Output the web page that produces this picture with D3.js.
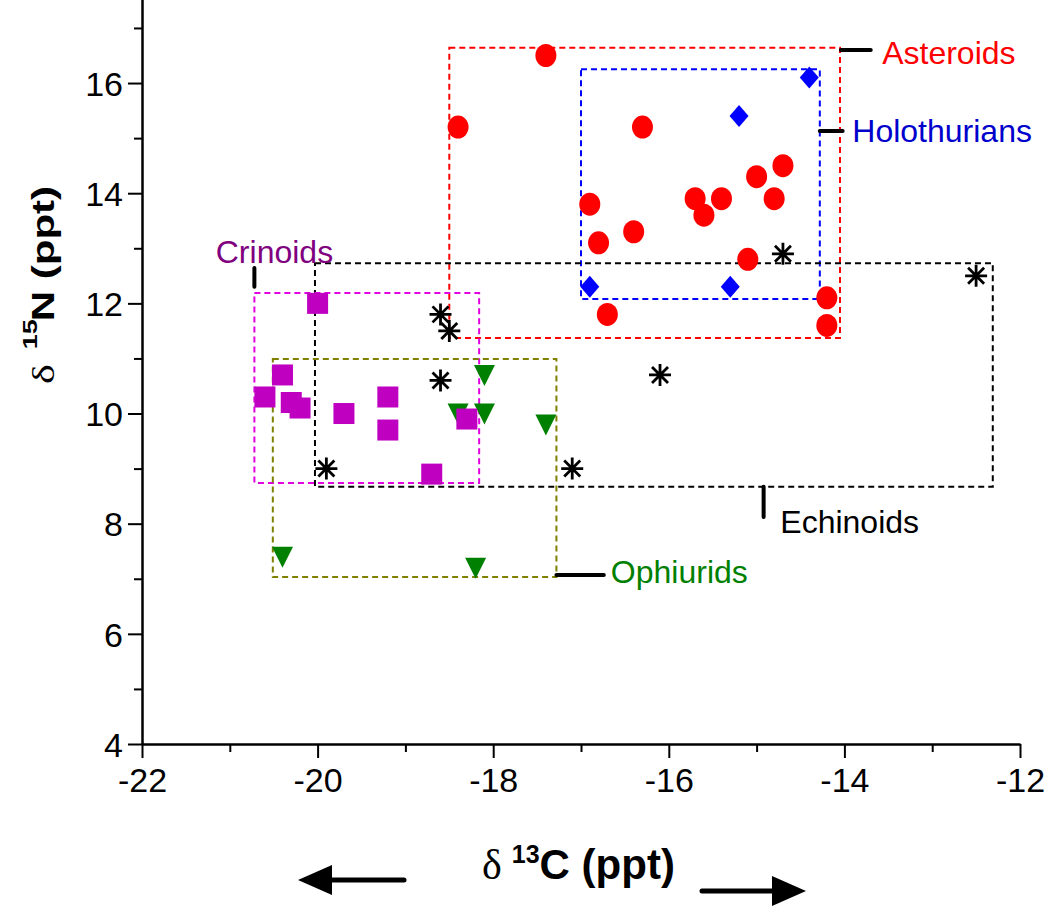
<!DOCTYPE html>
<html>
<head>
<meta charset="utf-8">
<script src="https://cdn.jsdelivr.net/npm/d3@7"></script>
<style>
  body { margin: 0; background: #fff; }
  svg { display: block; }
  text { font-family: "Liberation Sans", Arial, sans-serif; }
</style>
</head>
<body>
<div id="chart"></div>
<script>
// d13C (x) and d15N (y), one pair of arrays per group
const asteroidsC = [-17.4, -18.4, -16.3, -16.9, -16.8, -16.4, -15.7, -15.6, -15.4, -15.0, -14.7, -14.8, -15.1, -16.7, -14.2, -14.2];
const asteroidsN = [16.5, 15.2, 15.2, 13.8, 13.1, 13.3, 13.9, 13.6, 13.9, 14.3, 14.5, 13.9, 12.8, 11.8, 12.1, 11.6];

const holothuriansC = [-14.4, -15.2, -16.9, -15.3];
const holothuriansN = [16.1, 15.4, 12.3, 12.3];

const echinoidsC = [-18.6, -18.5, -18.6, -19.9, -17.1, -16.1, -14.7, -12.5];
const echinoidsN = [11.8, 11.5, 10.6, 9.0, 9.0, 10.7, 12.9, 12.5];

const crinoidsC = [-20.0, -20.4, -20.6, -20.3, -20.2, -19.7, -19.2, -19.2, -18.3, -18.7];
const crinoidsN = [12.0, 10.7, 10.3, 10.2, 10.1, 10.0, 10.3, 9.7, 9.9, 8.9];

const ophiuridsC = [-18.1, -18.4, -18.1, -17.4, -20.4, -18.2];
const ophiuridsN = [10.7, 10.0, 10.0, 9.8, 7.4, 7.2];

// dashed ranges: [xMin, xMax, yMin, yMax]
const asteroidsBox = [-18.5, -14.05, 11.37, 16.64];
const holothuriansBox = [-17.0, -14.28, 12.08, 16.25];
const echinoidsBox = [-20.03, -12.31, 8.67, 12.73];
const crinoidsBox = [-20.72, -18.16, 8.74, 12.19];
const ophiuridsBox = [-20.51, -17.28, 7.03, 10.99];

const xTicks = [-22, -21, -20, -19, -18, -17, -16, -15, -14, -13, -12];
const yTicks = [4, 5, 6, 7, 8, 9, 10, 11, 12, 13, 14, 15, 16, 17];

const width = 1049, height = 907;

const svg = d3.select("#chart").append("svg")
    .attr("width", width)
    .attr("height", height);

const x = d3.scaleLinear().domain([-22, -12]).range([142, 1020]);
const y = d3.scaleLinear().domain([4, 18]).range([744, 744 - 14 * 55.08]);

// axes: even values get long labelled ticks, odd ones short bare ticks
const xAxis = svg.append("g")
    .attr("transform", `translate(0,${y(4)})`)
    .call(d3.axisBottom(x).tickValues(xTicks).tickSize(14).tickSizeOuter(0)
        .tickFormat(d => d % 2 === 0 ? d : ""));
xAxis.selectAll(".tick line").attr("y2", d => d % 2 === 0 ? 14 : 8);

const yAxis = svg.append("g")
    .attr("transform", `translate(${x(-22)},0)`)
    .call(d3.axisLeft(y).tickValues(yTicks).tickSize(14).tickSizeOuter(0)
        .tickFormat(d => d % 2 === 0 ? d : ""));
yAxis.selectAll(".tick line").attr("x2", d => d % 2 === 0 ? -14 : -8);

svg.selectAll(".domain").attr("stroke", "#000").attr("stroke-width", 2.5);
svg.selectAll(".tick line").attr("stroke", "#000").attr("stroke-width", 2);
xAxis.selectAll(".tick text")
    .attr("y", 24).attr("dy", "0.71em")
    .attr("font-size", 34).attr("font-family", "Liberation Sans, Arial, sans-serif").attr("fill", "#000");
yAxis.selectAll(".tick text")
    .attr("x", -19).attr("dy", "0.36em")
    .attr("font-size", 34).attr("font-family", "Liberation Sans, Arial, sans-serif").attr("fill", "#000");

// dashed group boxes
function drawBox(b, color) {
    svg.append("rect")
        .attr("x", x(b[0]))
        .attr("y", y(b[3]))
        .attr("width", x(b[1]) - x(b[0]))
        .attr("height", y(b[2]) - y(b[3]))
        .attr("fill", "none")
        .attr("stroke", color)
        .attr("stroke-width", 2)
        .attr("stroke-dasharray", "6,4");
}
drawBox(asteroidsBox, "#ff0000");
drawBox(holothuriansBox, "#0000ff");
drawBox(echinoidsBox, "#000000");
drawBox(crinoidsBox, "#e000e0");
drawBox(ophiuridsBox, "#808000");

function pts(cs, ns) {
    return cs.map((c, i) => ({ c, n: ns[i] }));
}

// Ophiurids: down triangles
svg.selectAll(".oph").data(pts(ophiuridsC, ophiuridsN)).enter()
    .append("path").attr("class", "oph")
    .attr("transform", d => `translate(${x(d.c)},${y(d.n)})`)
    .attr("d", "M-10.5,-10L10.5,-10L0,11Z")
    .attr("fill", "#008000");

// Crinoids: squares
svg.selectAll(".cri").data(pts(crinoidsC, crinoidsN)).enter()
    .append("rect").attr("class", "cri")
    .attr("x", d => x(d.c) - 10.5)
    .attr("y", d => y(d.n) - 10.5)
    .attr("width", 21).attr("height", 21)
    .attr("fill", "#c000c0");

// Asteroids: circles
svg.selectAll(".ast").data(pts(asteroidsC, asteroidsN)).enter()
    .append("ellipse").attr("class", "ast")
    .attr("cx", d => x(d.c)).attr("cy", d => y(d.n))
    .attr("rx", 10.5).attr("ry", 11.5)
    .attr("fill", "#ff0000");

// Holothurians: diamonds
svg.selectAll(".hol").data(pts(holothuriansC, holothuriansN)).enter()
    .append("path").attr("class", "hol")
    .attr("transform", d => `translate(${x(d.c)},${y(d.n)})`)
    .attr("d", "M0,-11L9.5,0L0,11L-9.5,0Z")
    .attr("fill", "#0000ff");

// Echinoids: asterisks
svg.selectAll(".ech").data(pts(echinoidsC, echinoidsN)).enter()
    .append("path").attr("class", "ech")
    .attr("transform", d => `translate(${x(d.c)},${y(d.n)})`)
    .attr("d", "M0,-11V11M-11,0H11M-8,-8L8,8M-8,8L8,-8")
    .attr("stroke", "#000").attr("stroke-width", 2.8).attr("fill", "none");

// leader lines and group names
function leader(x1, y1, x2, y2) {
    svg.append("line")
        .attr("x1", x(x1)).attr("y1", y(y1))
        .attr("x2", x(x2)).attr("y2", y(y2))
        .attr("stroke", "#000").attr("stroke-width", 4)
        .attr("stroke-linecap", "round");
}
function label(txt, cx, cy, color) {
    svg.append("text")
        .attr("x", x(cx)).attr("y", y(cy))
        .attr("font-size", 32)
        .attr("fill", color)
        .text(txt);
}
leader(-14.04, 16.6, -13.7, 16.6);
label("Asteroids", -13.57, 16.35, "#ff0000");
leader(-14.28, 15.13, -14.02, 15.13);
label("Holothurians", -13.91, 14.93, "#0000cc");
leader(-20.72, 12.64, -20.72, 12.3);
label("Crinoids", -21.16, 12.73, "#800080");
leader(-14.92, 8.67, -14.92, 8.12);
label("Echinoids", -14.73, 7.83, "#000000");
leader(-17.28, 7.07, -16.74, 7.07);
label("Ophiurids", -16.66, 6.93, "#008000");

// axis titles
const xTitle = svg.append("text")
    .attr("x", 482).attr("y", 879)
    .attr("font-size", 42).attr("font-weight", "bold");
xTitle.append("tspan").attr("font-family", "Liberation Serif, Times New Roman, serif")
    .attr("font-weight", "normal").text("δ");
xTitle.append("tspan").attr("dx", 10).attr("dy", -16).attr("font-size", 25).text("13");
xTitle.append("tspan").attr("dy", 16).text("C (ppt)");

const yTitle = svg.append("text")
    .attr("transform", "translate(54,384) rotate(-90) scale(1,0.75)")
    .attr("font-size", 42).attr("font-weight", "bold");
yTitle.append("tspan").attr("font-family", "Liberation Serif, Times New Roman, serif")
    .attr("font-weight", "normal").text("δ");
yTitle.append("tspan").attr("dx", 15).attr("dy", -23).attr("font-size", 27).text("15");
yTitle.append("tspan").attr("dx", -2).attr("dy", 23).text("N (ppt)");

// direction arrows under the x title
function arrow(xTail, xTip, yy) {
    const dir = xTip < xTail ? -1 : 1;
    svg.append("line")
        .attr("x1", xTail).attr("y1", yy)
        .attr("x2", xTip - dir * 20).attr("y2", yy)
        .attr("stroke", "#000").attr("stroke-width", 5)
        .attr("stroke-linecap", "round");
    svg.append("path")
        .attr("d", `M${xTip},${yy}L${xTip - dir * 34},${yy - 15}L${xTip - dir * 34},${yy + 15}Z`)
        .attr("fill", "#000");
}
arrow(404, 298, 880);
arrow(702, 806, 891);
</script>
</body>
</html>
